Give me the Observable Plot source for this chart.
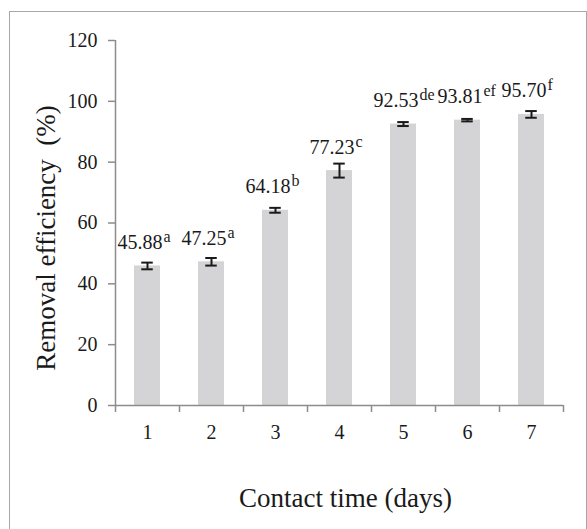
<!DOCTYPE html>
<html>
<head>
<meta charset="utf-8">
<script src="https://cdn.jsdelivr.net/npm/d3@7"></script>
<script src="https://cdn.jsdelivr.net/npm/@observablehq/plot@0.6"></script>
<style>
  body { margin: 0; background: #fff; }
  #wrap { position: relative; width: 587px; height: 529px; overflow: hidden; }
  #frame { position: absolute; left: 9px; top: 11px; width: 578px; height: 540px;
           border: 1.5px solid #a8a8a8; box-sizing: border-box; pointer-events: none; }
  svg { display: block; }
  svg text { font-family: "Liberation Serif", "Times New Roman", serif !important; font-variant: normal !important; }
</style>
</head>
<body>
<div id="wrap"><div id="frame"></div></div>
<script>
const days = [1, 2, 3, 4, 5, 6, 7];
const efficiency = [45.88, 47.25, 64.18, 77.23, 92.53, 93.81, 95.70];
const errors = [1.1, 1.25, 0.8, 2.3, 0.65, 0.4, 1.1];
const letters = ["a", "a", "b", "c", "de", "ef", "f"];
const yTicks = [0, 20, 40, 60, 80, 100, 120];
const xTitle = "Contact time (days)";
const yTitle = "Removal efficiency\u00a0 (%)";

const data = days.map((d, i) => ({
  day: d,
  value: efficiency[i],
  err: errors[i],
  letter: letters[i],
  label: efficiency[i].toFixed(2)
}));
const bounds = d3.range(0.5, days.length + 1, 1);

const axisColor = "#8c8c8c";
const textColor = "#1a1a1a";
const font = "Liberation Serif";

const chart = Plot.plot({
  width: 587,
  height: 529,
  marginLeft: 115,
  marginRight: 24,
  marginTop: 40,
  marginBottom: 124,
  style: { fontFamily: font, fontSize: "20px", color: textColor, background: "transparent" },
  x: { type: "linear", domain: [0.5, days.length + 0.5] },
  y: { domain: [0, 120] },
  marks: [
    Plot.rectY(data, {
      x1: d => d.day - 0.5, x2: d => d.day + 0.5, y: "value",
      insetLeft: 19, insetRight: 19, fill: "#d4d4d6"
    }),
    Plot.ruleX(data, {
      x: "day", y1: d => d.value - d.err, y2: d => d.value + d.err,
      stroke: textColor, strokeWidth: 2
    }),
    Plot.ruleY(data, {
      y: d => d.value + d.err, x1: d => d.day - 0.09, x2: d => d.day + 0.09,
      stroke: textColor, strokeWidth: 2
    }),
    Plot.ruleY(data, {
      y: d => d.value - d.err, x1: d => d.day - 0.09, x2: d => d.day + 0.09,
      stroke: textColor, strokeWidth: 2
    }),
    // axes
    Plot.ruleX([0.5], { stroke: axisColor, strokeWidth: 1.5 }),
    Plot.ruleY([0], { stroke: axisColor, strokeWidth: 1.5 }),
    Plot.axisY({
      ticks: yTicks, tickSize: 7, tickPadding: 11, stroke: axisColor, strokeWidth: 1.5,
      fill: textColor, fontSize: 20, fontFamily: font, label: null
    }),
    Plot.axisX({
      ticks: bounds, tickSize: 7, tickFormat: () => "", stroke: axisColor, strokeWidth: 1.5, label: null
    }),
    Plot.axisX({
      ticks: days, tickSize: 0, tickPadding: 19, tickFormat: d => String(d),
      fill: textColor, fontSize: 20, fontFamily: font, label: null
    }),
    // value labels with superscript letters
    Plot.text(data, {
      x: "day", y: "value", text: "label", textAnchor: "end", lineAnchor: "bottom",
      dx: 15, dy: -17, fontSize: 20, fontFamily: font, fill: textColor
    }),
    Plot.text(data, {
      x: "day", y: "value", text: "letter", textAnchor: "start", lineAnchor: "bottom",
      dx: 16, dy: -24, fontSize: 16, fontFamily: font, fill: textColor
    }),
    // titles
    Plot.text([xTitle], {
      frameAnchor: "bottom", lineAnchor: "bottom", textAnchor: "middle",
      dy: 101, dx: 6, fontSize: 27, fontFamily: font, fill: textColor
    }),
    Plot.text([yTitle], {
      frameAnchor: "left", lineAnchor: "bottom", textAnchor: "middle", rotate: -90,
      dx: -61, dy: 15, fontSize: 27, fontFamily: font, fill: textColor
    })
  ]
});

document.getElementById("wrap").prepend(chart);
</script>
</body>
</html>
